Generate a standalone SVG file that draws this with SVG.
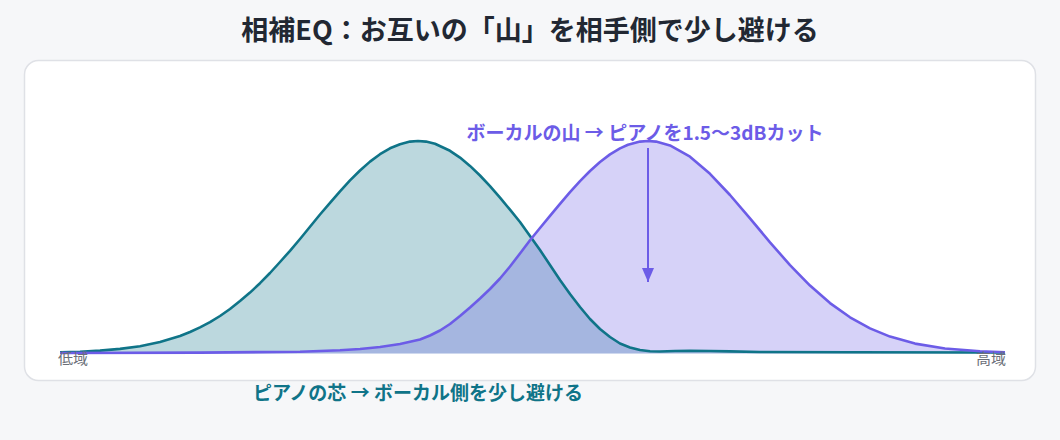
<svg xmlns="http://www.w3.org/2000/svg" width="1060" height="440" viewBox="0 0 1060 440">
<defs>
<style>
.title{font-family:"Noto Sans CJK JP","Noto Sans",sans-serif;font-weight:700;font-size:27px;fill:#222833}
.lbl{font-family:"Noto Sans CJK JP","Noto Sans",sans-serif;font-weight:700;font-size:19px}
.axis{font-family:"Noto Sans CJK JP","Noto Sans",sans-serif;font-size:15px;fill:#6b6f78}
.tealFill{fill:#0f7488;fill-opacity:0.28;stroke:none}
.purpFill{fill:#6c5ce7;fill-opacity:0.28;stroke:none}
.tealLine{fill:none;stroke:#0f7488;stroke-width:2.6;stroke-linejoin:round}
.purpLine{fill:none;stroke:#6c5ce7;stroke-width:2.6;stroke-linejoin:round}
</style>
<marker id="ah" markerWidth="14" markerHeight="12" refX="14" refY="6" orient="auto" markerUnits="userSpaceOnUse" viewBox="0 0 14 12">
<path d="M0,0 L14,6 L0,12 Z" fill="#6c5ce7"/>
</marker>
</defs>
<rect width="1060" height="440" fill="#f6f7f9"/>
<text class="title" x="530" y="40" text-anchor="middle">相補EQ：お互いの「山」を相手側で少し避ける</text>
<rect id="card" x="24.5" y="60.5" width="1011" height="320" rx="14" fill="#ffffff" stroke="#dfe1e6" stroke-width="1.5"/>
<g id="curves">
<path id="pianoFill" class="tealFill" d="M60,352.3 L80,351.7 L100,350.6 L120,348.9 L140,346.2 L160,342 L180,336 L190,332 L200,327.4 L210,322.1 L220,316 L230,309 L240,301 L250,292.6 L260,283.2 L270,273 L280,262 L290,250.8 L300,239 L310,226.8 L320,214.5 L330,202.8 L340,191.3 L350,180.4 L360,170.5 L370,161.6 L380,154.2 L390,148.3 L400,144.2 L410,141.6 L418,141 L426,141.6 L435,143.8 L450,150.8 L460,157.6 L470,165.9 L480,175.5 L490,186.2 L500,197.6 L510,209.7 L520,222 L530,236 L540,250 L550,265 L560,280 L570,294 L580,307 L590,319 L600,329 L610,337 L620,343.5 L630,347.5 L640,350 L650,351.3 L660,351.5 L675,351 L690,350.8 L710,351 L730,351.4 L760,352 L850,352.3 L1005,352.5 L1005,353.5 L60,353.5 Z"/>
<path id="vocalFill" class="purpFill" d="M60,353 L200,352.6 L300,351.8 L340,350.3 L360,349 L380,347 L400,344 L420,339.5 L430,335.5 L440,330.5 L450,324 L460,316 L470,307.5 L480,298.5 L490,289 L500,278.5 L510,266.5 L520,253.5 L530,240.3 L540,228 L550,215.9 L560,203.8 L570,192.1 L580,181.1 L590,171 L600,162 L610,154.4 L620,148.4 L628,144.8 L640,141.6 L648,141 L656,141.6 L670,145.4 L690,156.7 L710,173.8 L730,195 L750,218.4 L770,242.3 L790,265.1 L810,285.6 L830,303.1 L850,317.3 L870,328.4 L890,336.6 L915,343.6 L945,348.5 L980,351.3 L1005,352.3 L1005,353.5 L60,353.5 Z"/>
<path id="pianoLine" class="tealLine" d="M60,352.3 L80,351.7 L100,350.6 L120,348.9 L140,346.2 L160,342 L180,336 L190,332 L200,327.4 L210,322.1 L220,316 L230,309 L240,301 L250,292.6 L260,283.2 L270,273 L280,262 L290,250.8 L300,239 L310,226.8 L320,214.5 L330,202.8 L340,191.3 L350,180.4 L360,170.5 L370,161.6 L380,154.2 L390,148.3 L400,144.2 L410,141.6 L418,141 L426,141.6 L435,143.8 L450,150.8 L460,157.6 L470,165.9 L480,175.5 L490,186.2 L500,197.6 L510,209.7 L520,222 L530,236 L540,250 L550,265 L560,280 L570,294 L580,307 L590,319 L600,329 L610,337 L620,343.5 L630,347.5 L640,350 L650,351.3 L660,351.5 L675,351 L690,350.8 L710,351 L730,351.4 L760,352 L850,352.3 L1005,352.5"/>
<path id="vocalLine" class="purpLine" d="M60,353 L200,352.6 L300,351.8 L340,350.3 L360,349 L380,347 L400,344 L420,339.5 L430,335.5 L440,330.5 L450,324 L460,316 L470,307.5 L480,298.5 L490,289 L500,278.5 L510,266.5 L520,253.5 L530,240.3 L540,228 L550,215.9 L560,203.8 L570,192.1 L580,181.1 L590,171 L600,162 L610,154.4 L620,148.4 L628,144.8 L640,141.6 L648,141 L656,141.6 L670,145.4 L690,156.7 L710,173.8 L730,195 L750,218.4 L770,242.3 L790,265.1 L810,285.6 L830,303.1 L850,317.3 L870,328.4 L890,336.6 L915,343.6 L945,348.5 L980,351.3 L1005,352.3"/>
</g>
<g id="connectors">
<line x1="648" y1="148" x2="648" y2="282" stroke="#6c5ce7" stroke-width="2" marker-end="url(#ah)"/>
</g>
<g id="labels">
<text class="lbl" x="645" y="140" text-anchor="middle" fill="#6c5ce7">ボーカルの山 → ピアノを1.5〜3dBカット</text>
<text class="lbl" x="418" y="400" text-anchor="middle" fill="#0f7488">ピアノの芯 → ボーカル側を少し避ける</text>
<text class="axis" x="58" y="364">低域</text>
<text class="axis" x="1006" y="364" text-anchor="end">高域</text>
</g>
</svg>
